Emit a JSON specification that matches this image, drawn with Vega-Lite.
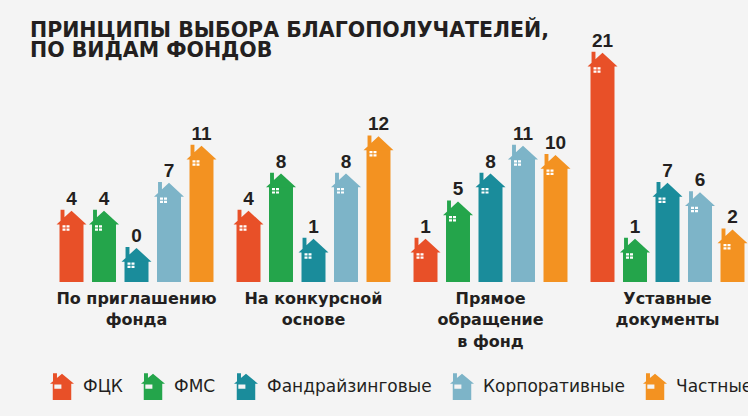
{
  "$schema": "https://vega.github.io/schema/vega-lite/v6.json",
  "width": 708,
  "height": 222,
  "autosize": {"type": "none"},
  "padding": {"left": 48, "top": 60, "right": 0, "bottom": 134},
  "background": "#f4f4f4",
  "title": {
    "text": ["ПРИНЦИПЫ ВЫБОРА БЛАГОПОЛУЧАТЕЛЕЙ,", "ПО ВИДАМ ФОНДОВ"],
    "anchor": "start",
    "frame": "group",
    "dx": -18,
    "dy": 34,
    "font": "DejaVu Sans",
    "fontSize": 20.5,
    "fontWeight": "bold",
    "lineHeight": 20,
    "color": "#231f20",
    "offset": 4
  },
  "data": {
    "values": [
      {"group": "По приглашению фонда", "fund": "ФЦК", "value": 4},
      {"group": "По приглашению фонда", "fund": "ФМС", "value": 4},
      {"group": "По приглашению фонда", "fund": "Фандрайзинговые", "value": 0},
      {"group": "По приглашению фонда", "fund": "Корпоративные", "value": 7},
      {"group": "По приглашению фонда", "fund": "Частные", "value": 11},
      {"group": "На конкурсной основе", "fund": "ФЦК", "value": 4},
      {"group": "На конкурсной основе", "fund": "ФМС", "value": 8},
      {"group": "На конкурсной основе", "fund": "Фандрайзинговые", "value": 1},
      {"group": "На конкурсной основе", "fund": "Корпоративные", "value": 8},
      {"group": "На конкурсной основе", "fund": "Частные", "value": 12},
      {"group": "Прямое обращение в фонд", "fund": "ФЦК", "value": 1},
      {"group": "Прямое обращение в фонд", "fund": "ФМС", "value": 5},
      {"group": "Прямое обращение в фонд", "fund": "Фандрайзинговые", "value": 8},
      {"group": "Прямое обращение в фонд", "fund": "Корпоративные", "value": 11},
      {"group": "Прямое обращение в фонд", "fund": "Частные", "value": 10},
      {"group": "Уставные документы", "fund": "ФЦК", "value": 21},
      {"group": "Уставные документы", "fund": "ФМС", "value": 1},
      {"group": "Уставные документы", "fund": "Фандрайзинговые", "value": 7},
      {"group": "Уставные документы", "fund": "Корпоративные", "value": 6},
      {"group": "Уставные документы", "fund": "Частные", "value": 2}
    ]
  },
  "encoding": {
    "x": {
      "field": "group",
      "type": "nominal",
      "sort": ["По приглашению фонда", "На конкурсной основе", "Прямое обращение в фонд", "Уставные документы"],
      "scale": {"paddingInner": 0.082, "paddingOuter": 0.041},
      "axis": {
        "title": null,
        "domain": false,
        "ticks": false,
        "labelAngle": 0,
        "labelPadding": 8,
        "labelFont": "DejaVu Sans",
        "labelFontSize": 16,
        "labelFontWeight": "bold",
        "labelColor": "#231f20",
        "labelLineHeight": 21.5,
        "labelLimit": 400,
        "labelExpr": "datum.label == 'По приглашению фонда' ? ['По приглашению', 'фонда'] : datum.label == 'На конкурсной основе' ? ['На конкурсной', 'основе'] : datum.label == 'Прямое обращение в фонд' ? ['Прямое', 'обращение', 'в фонд'] : ['Уставные', 'документы']"
      }
    },
    "xOffset": {
      "field": "fund",
      "type": "nominal",
      "sort": ["ФЦК", "ФМС", "Фандрайзинговые", "Корпоративные", "Частные"],
      "scale": {"paddingInner": 0.262, "paddingOuter": 0.131}
    },
    "y": {
      "field": "value",
      "type": "quantitative",
      "scale": {"domain": [-2.26, 21.61], "nice": false, "zero": false},
      "axis": null
    }
  },
  "layer": [
    {
      "mark": {"type": "bar", "cornerRadius": 0},
      "encoding": {
        "y2": {"datum": -2.26},
        "color": {
          "field": "fund",
          "type": "nominal",
          "sort": ["ФЦК", "ФМС", "Фандрайзинговые", "Корпоративные", "Частные"],
          "scale": {
            "domain": ["ФЦК", "ФМС", "Фандрайзинговые", "Корпоративные", "Частные"],
            "range": ["#e85028", "#24a54b", "#1a8c9b", "#7db4c8", "#f39221"]
          },
          "legend": {
            "title": null,
            "orient": "none",
            "direction": "horizontal",
            "columns": 5,
            "legendX": 2,
            "legendY": 315,
            "padding": 0,
            "symbolType": "M-0.77,1.08 L-0.77,-0.27 L-1,-0.27 L0,-1.1 L1,-0.27 L0.77,-0.27 L0.77,1.08 Z M-0.75,-0.3 L-0.75,-1.15 L-0.42,-1.15 L-0.42,-0.3 Z M-0.64,-0.2 L-0.64,0.15 L-0.05,0.15 L-0.05,-0.2 Z",
            "symbolSize": 576,
            "symbolStrokeWidth": 0,
            "symbolOpacity": 1,
            "labelFont": "DejaVu Sans",
            "labelFontSize": 17,
            "labelColor": "#231f20",
            "labelOffset": 9,
            "columnPadding": 18,
            "labelLimit": 300
          }
        }
      }
    },
    {
      "mark": {
        "type": "point",
        "filled": true,
        "opacity": 1,
        "strokeWidth": 0,
        "size": 900,
        "shape": "M-1,0.05 L0,-0.867 L1,0.05 Z M-0.73,-0.2 L-0.73,-0.93 L-0.47,-0.93 L-0.47,-0.2 Z"
      },
      "encoding": {
        "color": {"field": "fund", "type": "nominal"}
      }
    },
    {
      "mark": {
        "type": "point",
        "filled": true,
        "opacity": 1,
        "strokeWidth": 0,
        "size": 900,
        "color": "#ffffff",
        "shape": "M-0.6,0.1 L-0.4,0.1 L-0.4,0.253 L-0.6,0.253 Z M-0.333,0.1 L-0.133,0.1 L-0.133,0.253 L-0.333,0.253 Z M-0.6,0.32 L-0.4,0.32 L-0.4,0.467 L-0.6,0.467 Z M-0.333,0.32 L-0.133,0.32 L-0.133,0.467 L-0.333,0.467 Z"
      }
    },
    {
      "mark": {
        "type": "text",
        "font": "Liberation Sans",
        "fontSize": 19,
        "fontWeight": "bold",
        "color": "#231f20",
        "baseline": "alphabetic",
        "align": "center",
        "dy": -19
      },
      "encoding": {
        "text": {"field": "value", "type": "quantitative"}
      }
    }
  ],
  "config": {
    "view": {"stroke": null}
  }
}
